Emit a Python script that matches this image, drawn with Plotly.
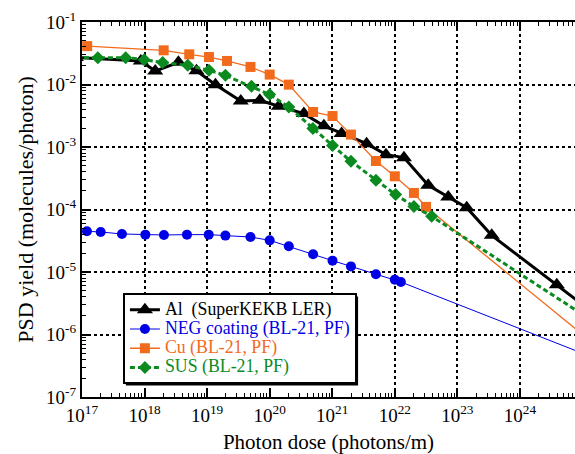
import plotly.graph_objects as go

# ---- data ----
al_x = [8.0e16, 8.7e17, 1.48e18, 3.48e18, 6.75e18, 1.36e19, 3.45e19, 6.95e19, 1.40e20, 3.52e20,
        7.35e20, 1.41e21, 3.54e21, 7.21e21, 1.40e22, 3.42e22, 7.14e22, 1.41e23, 3.54e23, 3.88e24, 1.0e25]
al_y = [2.70e-2, 2.38e-2, 1.64e-2, 2.26e-2, 1.66e-2, 9.95e-3, 5.45e-3, 5.58e-3, 4.48e-3, 3.42e-3,
        2.18e-3, 1.64e-3, 1.13e-3, 7.55e-4, 6.76e-4, 2.44e-4, 1.58e-4, 1.07e-4, 3.86e-5, 6.24e-6, 3.0e-6]

neg_x = [1.20e17, 1.99e17, 4.35e17, 1.03e18, 2.04e18, 4.76e18, 1.06e19, 1.96e19, 4.93e19, 1.00e20,
         2.02e20, 4.94e20, 1.01e21, 1.99e21, 4.99e21, 1.00e22, 1.25e22, 1.0e25]
neg_y = [4.48e-5, 4.37e-5, 4.06e-5, 3.96e-5, 3.91e-5, 3.96e-5, 3.96e-5, 3.82e-5, 3.63e-5, 3.21e-5,
         2.58e-5, 1.92e-5, 1.52e-5, 1.23e-5, 9.18e-6, 7.55e-6, 6.92e-6, 5.0e-7]

cu_x = [1.21e17, 2.02e18, 5.18e18, 1.07e19, 2.08e19, 4.93e19, 1.00e20, 2.02e20, 4.94e20, 1.01e21,
        1.99e21, 4.99e21, 1.00e22, 2.02e22, 3.15e22, 1.0e25]
cu_y = [4.11e-2, 3.52e-2, 3.04e-2, 2.75e-2, 2.38e-2, 1.91e-2, 1.44e-2, 9.95e-3, 3.63e-3, 3.13e-3,
        1.58e-3, 5.97e-4, 3.40e-4, 1.84e-4, 1.10e-4, 1.0e-6]

sus_x = [8.0e16, 1.79e17, 4.99e17, 9.86e17, 1.95e18, 4.90e18, 1.07e19, 1.96e19, 5.12e19, 1.00e20,
         2.02e20, 4.90e20, 1.01e21, 1.99e21, 4.99e21, 1.03e22, 2.02e22, 3.88e22, 1.0e25]
sus_y = [2.69e-2, 2.69e-2, 2.69e-2, 2.50e-2, 2.24e-2, 2.03e-2, 1.69e-2, 1.40e-2, 9.35e-3, 6.89e-3,
         4.37e-3, 1.97e-3, 1.06e-3, 5.90e-4, 2.93e-4, 1.73e-4, 1.12e-4, 7.78e-5, 2.09e-6]

x_exps = [17, 18, 19, 20, 21, 22, 23, 24]
y_exps = [-7, -6, -5, -4, -3, -2, -1]

BLACK = "#000000"
BLUE = "#0000e6"
ORANGE = "#f26b1d"
GREEN = "#0b8a1f"
FONT = "Times New Roman, Liberation Serif, DejaVu Serif, serif"
LEG_FS = "17.8px"


def leg(text, color):
    return f"<span style='color:{color};font-size:{LEG_FS}'>{text}</span>"


fig = go.Figure()
fig.add_trace(go.Scatter(
    x=al_x, y=al_y, mode="lines+markers", name=leg("Al  (SuperKEKB LER)", BLACK),
    line=dict(color=BLACK, width=3), marker=dict(symbol="triangle-up", size=14, color=BLACK)))
fig.add_trace(go.Scatter(
    x=neg_x, y=neg_y, mode="lines+markers", name=leg("NEG coating (BL-21, PF)", BLUE),
    line=dict(color=BLUE, width=1), marker=dict(symbol="circle", size=10, color=BLUE)))
fig.add_trace(go.Scatter(
    x=cu_x, y=cu_y, mode="lines+markers", name=leg("Cu (BL-21, PF)", ORANGE),
    line=dict(color=ORANGE, width=1.3), marker=dict(symbol="square", size=10, color=ORANGE)))
fig.add_trace(go.Scatter(
    x=sus_x, y=sus_y, mode="lines+markers", name=leg("SUS (BL-21, PF)", GREEN),
    line=dict(color=GREEN, width=3, dash="5px,3px"), marker=dict(symbol="diamond", size=10, color=GREEN)))

x_minor = [m * 10.0 ** e for e in range(16, 25) for m in range(2, 10)]
y_minor = [m * 10.0 ** e for e in range(-8, 0) for m in range(2, 10)]

fig.update_xaxes(
    type="log", range=[17, 24.88],
    tickmode="array", tickvals=[10.0 ** e for e in x_exps],
    ticktext=[f"10<sup>{e}</sup>" for e in x_exps],
    ticks="inside", ticklen=8, tickwidth=1.5, tickcolor=BLACK,
    minor=dict(tickmode="array", tickvals=x_minor, ticks="inside", ticklen=4, tickcolor=BLACK, tickwidth=1, showgrid=False),
    showgrid=True, gridcolor=BLACK, griddash="dot", gridwidth=1.5,
    showline=True, linecolor=BLACK, linewidth=2, mirror="ticks",
    tickfont=dict(family=FONT, size=19, color=BLACK),
    title=dict(text="Photon dose (photons/m)", font=dict(family=FONT, size=21, color=BLACK), standoff=10),
    zeroline=False,
)
fig.update_yaxes(
    type="log", range=[-7, -1],
    tickmode="array", tickvals=[10.0 ** e for e in y_exps],
    ticktext=[f"10<sup>{e}</sup>" for e in y_exps],
    ticks="inside", ticklen=8, tickwidth=1.5, tickcolor=BLACK,
    minor=dict(tickmode="array", tickvals=y_minor, ticks="inside", ticklen=4, tickcolor=BLACK, tickwidth=1, showgrid=False),
    showgrid=True, gridcolor=BLACK, griddash="dot", gridwidth=1.5,
    showline=True, linecolor=BLACK, linewidth=2, mirror=False,
    tickfont=dict(family=FONT, size=19, color=BLACK),
    title=dict(text="PSD yield (molecules/photon)", font=dict(family=FONT, size=22, color=BLACK), standoff=6),
    zeroline=False,
)

# legend drop shadow (paper coordinates of the plot area)
fig.add_shape(type="rect", xref="paper", yref="paper",
              x0=0.089, x1=0.560, y0=0.031, y1=0.268,
              fillcolor=BLACK, line=dict(width=0), layer="above")

fig.update_layout(
    width=575, height=454,
    margin=dict(l=82, r=0, t=22, b=57),
    plot_bgcolor="white", paper_bgcolor="white",
    font=dict(family=FONT, color=BLACK),
    legend=dict(
        x=0.083, y=0.277, xanchor="left", yanchor="top",
        bgcolor="white", bordercolor=BLACK, borderwidth=2,
        font=dict(family=FONT, size=12.5, color=BLACK),
        tracegroupgap=0, itemwidth=30,
    ),
)

fig.write_html("out.html")
